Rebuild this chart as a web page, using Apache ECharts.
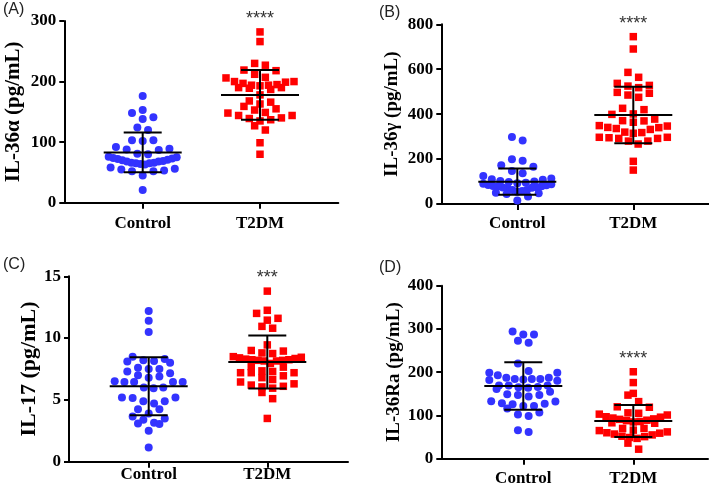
<!DOCTYPE html>
<html>
<head>
<meta charset="utf-8">
<script src="https://cdn.jsdelivr.net/npm/echarts@6/dist/echarts.min.js"></script>
<style>
html,body{margin:0;padding:0;background:#fff;}
#chart{width:709px;height:488px;}
</style>
</head>
<body>
<div id="chart"></div>
<script>
// ---------------- data ----------------
const categories = ['Control', 'T2DM'];
const panelLetters = ['(A)', '(B)', '(C)', '(D)'];
const yAxisNames = ['IL-36α (pg/mL)', 'IL-36γ (pg/mL)', 'IL-17 (pg/mL)', 'IL-36Ra (pg/mL)'];
const yMaxValues = [300, 800, 15, 400];
const yTickSteps = [100, 200, 5, 100];
const significance = ['****', '****', '***', '****'];

const il36aControl = [176, 153, 148, 141, 138, 124, 120, 103, 103, 102, 92, 89, 87, 88, 81, 80, 75, 73, 71, 69, 68, 66, 65, 64, 65, 66, 68, 70, 72, 74, 76, 63, 56, 53, 52, 52, 55, 58, 45, 21];
const il36aT2DM = [282, 266, 230, 227, 219, 218, 212, 207, 206, 200, 199, 200, 197, 194, 193, 190, 187, 190, 189, 194, 195, 178, 166, 168, 163, 159, 155, 153, 149, 148, 144, 144, 140, 139, 135, 137, 127, 120, 99, 80];
const il36aMean = [83, 178];
const il36aSD = [32.8, 41];

const il36gControl = [298, 283, 199, 193, 172, 166, 147, 137, 125, 113, 110, 100, 92, 85, 79, 75, 72, 71, 74, 78, 84, 90, 98, 108, 88, 95, 80, 102, 62, 58, 48, 55, 62, 50, 45, 33, 16];
const il36gT2DM = [745, 690, 586, 564, 537, 525, 528, 518, 497, 493, 485, 475, 426, 420, 401, 399, 378, 370, 364, 371, 349, 341, 332, 318, 315, 320, 336, 340, 347, 297, 295, 292, 280, 267, 280, 292, 297, 190, 151];
const il36gMean = [99.5, 396];
const il36gSD = [58, 126];

const il17Control = [12.2, 11.4, 10.5, 8.5, 8.3, 8.2, 8.15, 8.0, 8.1, 7.6, 7.5, 7.15, 7.5, 7.3, 7.0, 6.9, 6.8, 6.5, 6.45, 6.45, 6.45, 6.45, 6.0, 5.95, 6.0, 5.2, 5.15, 4.9, 4.7, 4.9, 5.2, 4.25, 4.25, 3.9, 3.5, 3.65, 3.4, 3.15, 3.05, 3.1, 2.5, 1.15];
const il17T2DM = [13.8, 12.25, 12.0, 11.6, 11.45, 10.95, 10.8, 9.45, 9.0, 8.8, 8.95, 8.75, 8.5, 8.4, 8.3, 8.25, 8.2, 8.15, 8.15, 8.2, 8.25, 8.35, 8.45, 7.95, 7.65, 7.7, 7.35, 7.3, 7.2, 7.2, 7.2, 6.95, 6.8, 6.65, 6.45, 6.3, 6.2, 6.1, 5.95, 6.05, 5.6, 5.1, 3.5];
const il17Mean = [6.1, 8.07];
const il17SD = [2.35, 2.15];

const il36raControl = [294, 287, 287, 273, 268, 220, 199, 199, 203, 193, 187, 184, 180, 183, 182, 184, 184, 187, 169, 166, 164, 169, 169, 161, 165, 147, 155, 149, 144, 147, 133, 128, 126, 127, 132, 122, 122, 116, 102, 99, 107, 62, 66];
const il36raT2DM = [201, 176, 151, 147, 132, 119, 120, 105, 101, 103, 106, 96, 92, 89, 86, 83, 82, 85, 88, 91, 94, 97, 70, 66, 62, 59, 55, 51, 47, 49, 52, 57, 60, 65, 70, 36, 22];
const il36raMean = [168, 87];
const il36raSD = [55, 37];

const groupValues = [
  [il36aControl, il36aT2DM],
  [il36gControl, il36gT2DM],
  [il17Control, il17T2DM],
  [il36raControl, il36raT2DM]
];
const groupMeans = [il36aMean, il36gMean, il17Mean, il36raMean];
const groupSDs = [il36aSD, il36gSD, il17SD, il36raSD];

// ---------------- layout / style ----------------
const layouts = [
  {left: 64.3, right: 338.3, top: 21, bottom: 202.7, cx: [142.7, 260], lx: 3, ly: 2, nameGap: 40, nameSize: 21, labelMargin: 12},
  {left: 441.3, right: 709, top: 24.3, bottom: 204, cx: [517.3, 633.3], lx: 379, ly: 5, nameGap: 40, nameSize: 19, labelMargin: 11},
  {left: 69, right: 348, top: 276.3, bottom: 461.7, cx: [148.7, 267.3], lx: 3, ly: 257, nameGap: 28, nameSize: 22, labelMargin: 4},
  {left: 441.3, right: 708, top: 285.7, bottom: 458.7, cx: [523.3, 633.3], lx: 379, ly: 260, nameGap: 36, nameSize: 19, labelMargin: 11}
];
const SERIF = "'Liberation Serif', 'Times New Roman', serif";
const SANS = "'Liberation Sans', Arial, sans-serif";
const BLUE = '#3333ff';
const RED = '#ff0000';
const CIRCLE_SIZE = 8;
const SQUARE_SIZE = 7.5;
const ROW_H = 8;         // px height of a swarm row
const ROW_STEP = 10.7;   // px preferred spacing in a row
const ROW_HALF = 34;     // px max half width of a row
const MEAN_HALF = 39;    // px
const CAP_HALF = 19;     // px
const STAR_GAP = 13;     // px above highest T2DM point

// Prism-like scatter-dot layout: values grouped into rows, lowest value centred
function swarmOffsets(values, pxPerUnit) {
  const order = values.map((v, i) => i).sort((a, b) => values[a] - values[b]);
  const out = new Array(values.length).fill(0);
  const rows = [];
  let cur = null;
  order.forEach(i => {
    const y = values[i] * pxPerUnit;
    if (!cur || y - cur.start >= ROW_H) { cur = {start: y, idx: []}; rows.push(cur); }
    cur.idx.push(i);
  });
  rows.forEach(r => {
    const n = r.idx.length;
    const s = n > 1 ? Math.min(ROW_STEP, 2 * ROW_HALF / (n - 1)) : 0;
    const pos = [];
    if (n % 2 === 1) {
      pos.push(0);
      for (let k = 1; pos.length < n; k++) { pos.push(k * s); if (pos.length < n) pos.push(-k * s); }
    } else {
      for (let k = 0; pos.length < n; k++) { pos.push((k + 0.5) * s); pos.push(-(k + 0.5) * s); }
    }
    r.idx.forEach((i, k) => { out[i] = pos[k]; });
  });
  return out;
}

const chart = echarts.init(document.getElementById('chart'), null, {renderer: 'canvas'});

const grids = [], xAxes = [], yAxes = [], series = [], graphics = [];

layouts.forEach((L, i) => {
  const spacing = L.cx[1] - L.cx[0];
  const xMin = 1 - (L.cx[0] - L.left) / spacing;
  const xMax = 2 + (L.right - L.cx[1]) / spacing;
  const pxPerUnit = (L.bottom - L.top) / yMaxValues[i];

  grids.push({left: L.left, top: L.top, width: L.right - L.left, height: L.bottom - L.top, containLabel: false});

  xAxes.push({
    type: 'value', gridIndex: i, min: xMin, max: xMax,
    axisLine: {show: true, onZero: false, lineStyle: {color: '#000', width: 2}},
    axisTick: {show: true, customValues: [1, 2], length: 6, lineStyle: {color: '#000', width: 2}},
    axisLabel: {show: true, customValues: [1, 2], margin: L.labelMargin,
      formatter: v => categories[Math.round(v) - 1] || '',
      color: '#000', fontFamily: SERIF, fontWeight: 'bold', fontSize: 17},
    splitLine: {show: false}
  });

  yAxes.push({
    type: 'value', gridIndex: i, min: 0, max: yMaxValues[i], interval: yTickSteps[i],
    name: yAxisNames[i], nameLocation: 'middle', nameGap: L.nameGap,
    nameTextStyle: {color: '#000', fontFamily: SERIF, fontWeight: 'bold', fontSize: L.nameSize},
    axisLine: {show: true, onZero: false, lineStyle: {color: '#000', width: 2}},
    axisTick: {show: true, length: 5, lineStyle: {color: '#000', width: 2}},
    axisLabel: {color: '#000', fontFamily: SERIF, fontWeight: 'bold', fontSize: 17, margin: 8},
    splitLine: {show: false}
  });

  groupValues[i].forEach((vals, g) => {
    const off = swarmOffsets(vals, pxPerUnit);
    series.push({
      type: 'scatter', xAxisIndex: i, yAxisIndex: i,
      symbol: g === 0 ? 'circle' : 'rect',
      symbolSize: g === 0 ? CIRCLE_SIZE : SQUARE_SIZE,
      itemStyle: {color: g === 0 ? BLUE : RED, opacity: 1},
      data: vals.map((v, k) => [g + 1 + off[k] / spacing, v]),
      z: 2, silent: true
    });
  });

  // mean ± SD
  series.push({
    type: 'custom', xAxisIndex: i, yAxisIndex: i, z: 5, silent: true,
    data: [[1, groupMeans[i][0], groupSDs[i][0]], [2, groupMeans[i][1], groupSDs[i][1]]],
    encode: {x: 0, y: 1},
    renderItem: function (params, api) {
      const x = api.value(0), m = api.value(1), s = api.value(2);
      const c = api.coord([x, m]);
      const t = api.coord([x, m + s]);
      const b = api.coord([x, m - s]);
      const st = {stroke: '#000', lineWidth: 2};
      return {type: 'group', children: [
        {type: 'line', shape: {x1: c[0] - MEAN_HALF, y1: c[1], x2: c[0] + MEAN_HALF, y2: c[1]}, style: st},
        {type: 'line', shape: {x1: c[0], y1: t[1], x2: c[0], y2: b[1]}, style: st},
        {type: 'line', shape: {x1: c[0] - CAP_HALF, y1: t[1], x2: c[0] + CAP_HALF, y2: t[1]}, style: st},
        {type: 'line', shape: {x1: c[0] - CAP_HALF, y1: b[1], x2: c[0] + CAP_HALF, y2: b[1]}, style: st}
      ]};
    }
  });

  // significance stars above highest T2DM point
  const topVal = Math.max.apply(null, groupValues[i][1]);
  series.push({
    type: 'custom', xAxisIndex: i, yAxisIndex: i, z: 6, silent: true, clip: false,
    data: [[2, topVal]],
    encode: {x: 0, y: 1},
    renderItem: function (params, api) {
      const p = api.coord([api.value(0), api.value(1)]);
      return {type: 'text', x: p[0], y: p[1] - STAR_GAP,
        style: {text: significance[i], fill: '#333', font: '18px ' + SANS, align: 'center', verticalAlign: 'middle'}};
    }
  });

  graphics.push({type: 'text', left: L.lx, top: L.ly,
    style: {text: panelLetters[i], fill: '#222', font: '16px ' + SANS}});
});

chart.setOption({
  animation: false,
  grid: grids,
  xAxis: xAxes,
  yAxis: yAxes,
  series: series,
  graphic: graphics
});
</script>
</body>
</html>
